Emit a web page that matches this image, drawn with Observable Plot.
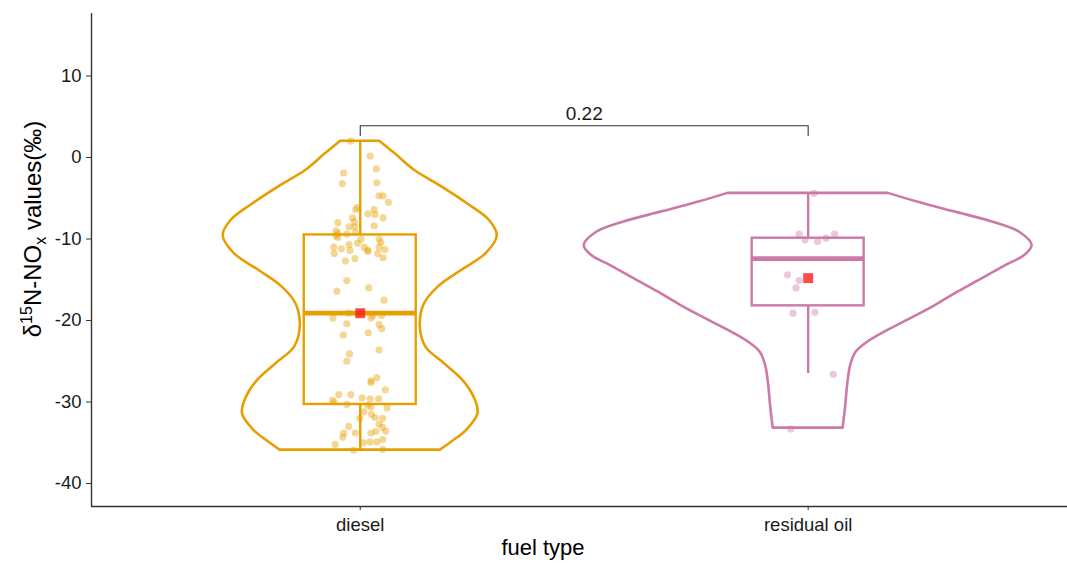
<!DOCTYPE html>
<html>
<head>
<meta charset="utf-8">
<script src="https://cdn.jsdelivr.net/npm/d3@7"></script>
<script src="https://cdn.jsdelivr.net/npm/@observablehq/plot@0.6"></script>
<style>
  html, body { margin: 0; padding: 0; background: #fff; }
  #chart svg { display: block; }
</style>
</head>
<body>
<div id="chart"></div>
<script>
// ---------- data ----------
const categories = ["diesel", "residual oil"];
const colors = ["#E69F00", "#CC79A7"];

const dieselValues = [2.0, 0.16, -1.9, -1.4, -3.2, -3.1, -4.7, -4.7, -5.5, -6.1, -6.4, -6.4, -7.0, -6.9, -7.4, -7.4, -7.9, -8.0, -8.5, -8.5, -8.4, -9.0, -9.3, -9.6, -9.8, -9.4, -9.2, -10.0, -10.0, -10.4, -10.5, -10.7, -11.0, -11.2, -11.4, -11.8, -11.0, -11.4, -11.5, -11.0, -11.3, -11.8, -12.3, -12.4, -12.7, -15.1, -16.4, -16.0, -17.5, -19.7, -19.1, -19.7, -19.4, -19.4, -20.4, -20.5, -21.0, -21.5, -21.8, -23.6, -24.1, -25.0, -27.0, -27.4, -27.6, -28.5, -29.1, -29.1, -30.0, -29.8, -30.3, -29.5, -29.6, -29.6, -30.4, -30.6, -30.7, -31.2, -31.5, -31.9, -32.0, -32.0, -32.7, -33.1, -33.0, -33.8, -33.8, -34.3, -33.8, -33.6, -33.6, -34.6, -34.9, -34.9, -35.0, -35.2, -35.9, -35.8];
const dieselJitter = [-0.021, 0.022, -0.037, 0.036, -0.040, 0.037, 0.042, 0.051, 0.063, -0.006, -0.010, 0.031, 0.033, 0.017, 0.051, -0.017, -0.013, -0.050, -0.025, -0.012, 0.031, -0.054, -0.050, -0.054, -0.050, -0.030, -0.011, 0.002, 0.042, 0.046, -0.006, -0.025, -0.059, -0.042, -0.023, -0.058, 0.009, 0.017, 0.017, 0.042, 0.055, 0.039, 0.051, -0.012, -0.033, -0.030, -0.052, 0.019, 0.053, -0.061, -0.026, 0.024, 0.028, 0.048, -0.030, 0.042, 0.048, 0.018, -0.038, 0.042, -0.024, -0.030, 0.037, 0.024, 0.024, 0.056, -0.048, -0.021, -0.058, -0.062, -0.030, 0.004, 0.022, 0.041, 0.017, 0.024, 0.060, 0.008, 0.025, 0.033, 0.050, -0.001, 0.042, 0.050, -0.026, -0.011, -0.037, -0.039, 0.024, 0.035, 0.057, 0.050, 0.037, 0.022, 0.007, -0.056, -0.015, 0.050];

const residualValues = [-4.4, -9.4, -10.1, -10.3, -9.9, -9.4, -14.4, -15.1, -16.0, -19.1, -19.0, -26.6, -33.3];
const residualJitter = [0.013, -0.020, -0.007, 0.021, 0.040, 0.059, -0.046, -0.020, -0.027, -0.034, 0.015, 0.056, -0.039];

// violin outline (density half-width, in category units)
const violinDieselY    = [2.0, 0.45, -1.6, -3.6, -5.7, -7.7, -9.6, -11.8, -13.9, -15.9, -18.0, -20.8, -23.3, -25.3, -27.4, -29.4, -31.4, -33.5, -34.7, -35.9];
const violinDieselHalf = [0.0435, 0.078, 0.122, 0.182, 0.240, 0.288, 0.306, 0.281, 0.225, 0.174, 0.143, 0.134, 0.147, 0.188, 0.230, 0.254, 0.263, 0.237, 0.210, 0.179];
const violinResidualY    = [-4.4, -5.5, -6.7, -7.9, -9.2, -10.8, -12.0, -13.3, -14.9, -16.5, -18.2, -19.8, -21.4, -22.7, -23.9, -25.5, -28.0, -30.4, -33.2];
const violinResidualHalf = [0.179, 0.246, 0.328, 0.411, 0.473, 0.500, 0.484, 0.440, 0.388, 0.335, 0.283, 0.228, 0.172, 0.132, 0.107, 0.095, 0.088, 0.084, 0.078];

// boxplot statistics
const boxLower  = [-35.9, -26.5];
const boxQ1     = [-30.3, -18.2];
const boxMedian = [-19.1, -12.4];
const boxQ3     = [-9.5, -9.9];
const boxUpper  = [2.0, -4.4];
const groupMean = [-19.1, -14.8];

// significance annotation
const comparisonPair = ["diesel", "residual oil"];
const comparisonLabel = "0.22";
const comparisonY = 3.9;
const comparisonTip = 2.7;

const yTicks = [-40, -30, -20, -10, 0, 10];

// ---------- derived tables ----------
const pos = c => categories.indexOf(c) + 1;
const points = [
  ...dieselValues.map((v, i) => ({cat: "diesel", x: 1 + dieselJitter[i], y: v})),
  ...residualValues.map((v, i) => ({cat: "residual oil", x: 2 + residualJitter[i], y: v}))
];
const violins = [
  ...violinDieselY.map((y, i) => ({cat: "diesel", y, x1: 1 - violinDieselHalf[i], x2: 1 + violinDieselHalf[i]})),
  ...violinResidualY.map((y, i) => ({cat: "residual oil", y, x1: 2 - violinResidualHalf[i], x2: 2 + violinResidualHalf[i]}))
];
const boxHalf = 0.125;
const boxes = categories.map((c, i) => ({
  cat: c, x: i + 1, x1: i + 1 - boxHalf, x2: i + 1 + boxHalf,
  lo: boxLower[i], q1: boxQ1[i], med: boxMedian[i], q3: boxQ3[i], hi: boxUpper[i], mean: groupMean[i]
}));
const bracket = [
  {x: pos(comparisonPair[0]), y: comparisonTip},
  {x: pos(comparisonPair[0]), y: comparisonY},
  {x: pos(comparisonPair[1]), y: comparisonY},
  {x: pos(comparisonPair[1]), y: comparisonTip}
];

const yMin = -42.82, yMax = 17.67;

const plot = Plot.plot({
  width: 1067,
  height: 563,
  marginLeft: 91,
  marginRight: 0,
  marginTop: 13,
  marginBottom: 57,
  style: {fontFamily: "'Liberation Sans', Arial, sans-serif", fontSize: "18px", color: "#1a1a1a", background: "#fff"},
  x: {type: "linear", domain: [0.4, 2.579], axis: null},
  y: {domain: [yMin, yMax], axis: null},
  color: {domain: categories, range: colors},
  marks: [
    // violins
    Plot.areaX(violins, {y: "y", x1: "x1", x2: "x2", z: "cat", stroke: "cat", fill: "none", strokeWidth: 2.6, curve: "catmull-rom"}),
    // whiskers
    Plot.ruleX(boxes, {x: "x", y1: "q3", y2: "hi", stroke: "cat", strokeWidth: 2.4}),
    Plot.ruleX(boxes, {x: "x", y1: "q1", y2: "lo", stroke: "cat", strokeWidth: 2.4}),
    // boxes
    Plot.rect(boxes, {x1: "x1", x2: "x2", y1: "q1", y2: "q3", stroke: "cat", fill: "none", strokeWidth: 2.4}),
    Plot.ruleY(boxes, {y: "med", x1: "x1", x2: "x2", stroke: "cat", strokeWidth: 4.8}),
    // jittered points
    Plot.dot(points, {x: "x", y: "y", r: 3.6, fill: "cat", fillOpacity: 0.42, stroke: "none"}),
    // means
    Plot.dot(boxes, {x: "x", y: "mean", symbol: "square", r: 5.6, fill: "#ff1a1a", fillOpacity: 0.8, stroke: "none"}),
    // significance bracket
    Plot.line(bracket, {x: "x", y: "y", stroke: "#333", strokeWidth: 1.1}),
    Plot.text([comparisonLabel], {x: (pos(comparisonPair[0]) + pos(comparisonPair[1])) / 2, y: comparisonY, text: d => d, dy: -12, fontSize: 19, fill: "#1a1a1a"}),
    // axes
    Plot.ruleX([0.4], {stroke: "#333", strokeWidth: 1.4}),
    Plot.ruleY([yMin], {stroke: "#333", strokeWidth: 1.4}),
    Plot.axisY(yTicks, {anchor: "left", tickSize: 5, tickPadding: 5, fontSize: 18.5, label: null, stroke: "#333", tickFormat: d => String(d)}),
    Plot.axisX([1, 2], {anchor: "bottom", tickSize: 4, tickPadding: 7, fontSize: 18.5, label: null, stroke: "#333", tickFormat: d => categories[d - 1]})
  ]
});

document.getElementById("chart").appendChild(plot);

// axis titles
const svg = d3.select(plot);
svg.append("text")
  .attr("x", 543).attr("y", 555)
  .attr("text-anchor", "middle")
  .attr("font-size", 22)
  .attr("fill", "#000")
  .text("fuel type");

const yt = svg.append("text")
  .attr("transform", "translate(41,229) rotate(-90)")
  .attr("text-anchor", "middle")
  .attr("font-size", 24)
  .attr("fill", "#000");
yt.append("tspan").text("δ");
yt.append("tspan").attr("dy", -9).attr("font-size", 16).text("15");
yt.append("tspan").attr("dy", 9).text("N-NO");
yt.append("tspan").attr("dy", 5).attr("font-size", 16).text("x");
yt.append("tspan").attr("dy", -5).text(" values(‰)");
</script>
</body>
</html>
